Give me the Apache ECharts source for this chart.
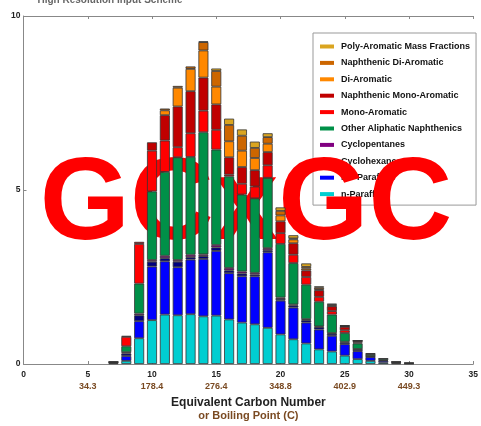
<!DOCTYPE html>
<html><head><meta charset="utf-8">
<script src="https://cdn.jsdelivr.net/npm/echarts@6/dist/echarts.min.js"></script>
<style>html,body{margin:0;padding:0;background:#fff}#c{width:481px;height:426px}</style>
</head><body><div id="c"></div>
<script>
// ---- data ----
const axisCategories = ['0','1','2','3','4','5','6','7','8','9','10','11','12','13','14','15','16','17','18','19','20','21','22','23','24','25','26','27','28','29','30','31','32','33','34','35'];
const carbonNumbers = [7,8,9,10,11,12,13,14,15,16,17,18,19,20,21,22,23,24,25,26,27,28,29,30];
const nParaffins      = [0.02,0.09,0.74,1.26,1.42,1.40,1.43,1.37,1.39,1.28,1.19,1.14,1.04,0.85,0.71,0.59,0.42,0.36,0.24,0.14,0.09,0.04,0.02,0.01];
const isoParaffins    = [0.02,0.14,0.49,1.54,1.53,1.38,1.57,1.65,1.86,1.33,1.33,1.38,2.17,0.97,0.91,0.60,0.57,0.45,0.33,0.23,0.11,0.05,0.03,0.02];
const cyclohexanes    = [0.01,0.07,0.17,0.14,0.09,0.16,0.07,0.08,0.10,0.08,0.08,0.05,0.06,0.05,0.06,0.07,0.07,0.06,0.05,0.05,0.02,0.02,0.01,0.01];
const cyclopentanes   = [0,0.04,0.05,0.05,0.07,0.05,0.07,0.05,0.07,0.07,0.06,0.05,0.06,0.04,0.03,0.03,0.02,0.02,0.02,0.01,0.01,0,0,0];
const otherNaphthenics= [0.01,0.17,0.86,1.97,2.41,2.95,2.81,3.51,2.74,2.63,2.21,2.14,2.02,1.54,1.19,0.99,0.71,0.53,0.25,0.16,0.05,0.04,0.01,0];
const monoAromatic    = [0.01,0.27,1.14,1.17,0.90,0.29,0.68,0.62,0.57,0.05,0.31,0.34,0.36,0.31,0.24,0.22,0.14,0.10,0.08,0.03,0.01,0,0,0];
const naphMonoAromatic= [0,0.03,0.06,0.24,0.73,1.17,1.21,0.95,0.73,0.50,0.48,0.47,0.38,0.34,0.33,0.19,0.19,0.14,0.10,0.04,0.02,0.01,0,0];
const diAromatic      = [0,0,0,0,0.14,0.54,0.64,0.78,0.51,0.46,0.47,0.35,0.24,0.17,0.11,0.05,0.03,0.02,0.01,0.01,0,0,0,0];
const naphDiAromatic  = [0,0,0,0,0.05,0.05,0.07,0.24,0.45,0.47,0.43,0.29,0.19,0.13,0.03,0.05,0.05,0.03,0.02,0.01,0,0,0,0];
const polyAromatic    = [0,0,0,0,0,0,0,0.02,0.07,0.18,0.18,0.18,0.11,0.10,0.09,0.10,0.03,0.02,0.01,0,0,0,0,0];

const xTickLabels = ['0','5','10','15','20','25','30','35'];
const bpTicks = ['5','10','15','20','25','30'];
const bpLabels = ['34.3','178.4','276.4','348.8','402.9','449.3'];

const seriesDefs = [
  ['n-Paraffins', nParaffins, '#00CED1'],
  ['iso-Paraffins', isoParaffins, '#0000FF'],
  ['Cyclohexanes', cyclohexanes, '#000080'],
  ['Cyclopentanes', cyclopentanes, '#800080'],
  ['Other Aliphatic Naphthenics', otherNaphthenics, '#009048'],
  ['Mono-Aromatic', monoAromatic, '#FF0000'],
  ['Naphthenic Mono-Aromatic', naphMonoAromatic, '#C00000'],
  ['Di-Aromatic', diAromatic, '#FF8800'],
  ['Naphthenic Di-Aromatic', naphDiAromatic, '#CC6600'],
  ['Poly-Aromatic Mass Fractions', polyAromatic, '#DAA520']
];

const FONT = 'Liberation Sans, Arial, Helvetica, sans-serif';
const chart = echarts.init(document.getElementById('c'), null, {renderer:'canvas'});

const series = seriesDefs.map(([name, vals, color]) => ({
  name, type:'bar', stack:'total', xAxisIndex:0, yAxisIndex:0,
  barWidth:10, z:5,
  itemStyle:{color, borderColor:'#333', borderWidth:0.8},
  emphasis:{disabled:true},
  data: axisCategories.map(c => {
    const i = carbonNumbers.indexOf(Number(c));
    return (i < 0 || vals[i] === 0) ? '-' : vals[i];
  })
}));

const catAxisBase = {
  type:'category', data:axisCategories, boundaryGap:false,
  axisLine:{show:true, lineStyle:{color:'#888', width:1}},
  axisTick:{show:true, inside:true, length:3, interval:4, lineStyle:{color:'#888'}},
  splitLine:{show:false}
};

chart.setOption({
  animation:false,
  grid:{left:23.5, right:0, top:16, bottom:59.5, containLabel:false},
  legend:{
    orient:'vertical', left:313, top:33, z:1, selectedMode:false,
    padding:[7.5,6,5,7], itemGap:4.4, itemWidth:14, itemHeight:4, icon:'rect',
    backgroundColor:'#fff', borderColor:'#999', borderWidth:1,
    itemStyle:{borderWidth:0},
    textStyle:{fontSize:9, fontWeight:'bold', color:'#111', fontFamily:FONT, lineHeight:12, padding:[0,0,0,2]},
    data: seriesDefs.map(d => d[0]).reverse()
  },
  xAxis:[
    Object.assign({}, catAxisBase, {position:'bottom',
     axisLabel:{interval:4, fontSize:8.5, fontWeight:'bold', color:'#222', fontFamily:FONT, margin:6.5,
       formatter: v => xTickLabels.includes(v) ? v : ''},
     name:'Equivalent Carbon Number', nameLocation:'middle', nameGap:32.5,
     nameTextStyle:{fontSize:12, fontWeight:'bold', color:'#222', fontFamily:FONT}}),
    Object.assign({}, catAxisBase, {position:'top', axisLabel:{show:false}}),
    Object.assign({}, catAxisBase, {position:'bottom', offset:12,
     axisLine:{show:false}, axisTick:{show:false},
     axisLabel:{interval:4, fontSize:9, fontWeight:'bold', color:'#7a4a22', fontFamily:FONT, margin:6.5,
       formatter: v => { const i = bpTicks.indexOf(v); return i >= 0 ? bpLabels[i] : ''; }},
     name:'or Boiling Point (C)', nameLocation:'middle', nameGap:34,
     nameTextStyle:{fontSize:11, fontWeight:'bold', color:'#7a4a22', fontFamily:FONT}})
  ],
  yAxis:[
    {type:'value', min:0, max:10, interval:5,
     axisLine:{show:true, lineStyle:{color:'#888', width:1}},
     axisTick:{show:true, inside:true, length:3, lineStyle:{color:'#888'}},
     axisLabel:{fontSize:8.5, fontWeight:'bold', color:'#222', fontFamily:FONT, margin:3},
     splitLine:{show:false}}
  ],
  graphic:[
    {type:'text', z:3, x:110, y:0,
     style:{text:'High Resolution Input Scheme', x:0, y:0, align:'center', verticalAlign:'middle',
       font:'bold 10px ' + FONT, fill:'#666'}},
    {type:'text', z:3, x:246, y:207,
     style:{text:'GCxGC', x:0, y:0, align:'center', verticalAlign:'middle',
       font:'bold 116px ' + FONT, fill:'#FF0000'}}
  ],
  series
});
</script></body></html>
